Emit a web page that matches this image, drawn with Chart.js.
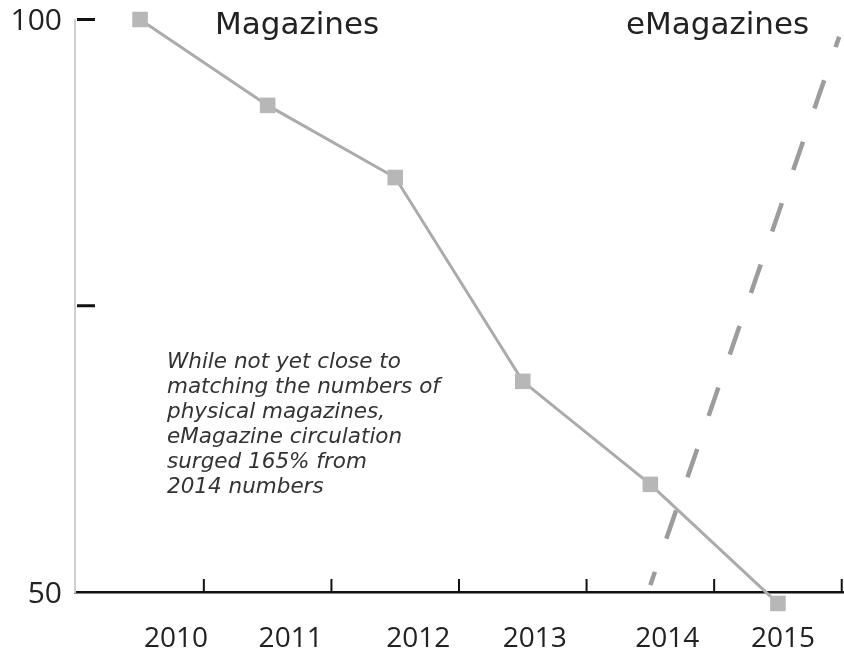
<!DOCTYPE html>
<html>
<head>
<meta charset="utf-8">
<script src="https://cdn.jsdelivr.net/npm/chart.js@4"></script>
<style>
    html, body { margin: 0; padding: 0; background: #fff; }
    canvas { display: block; }
</style>
</head>
<body>
<canvas id="chart" width="844" height="655"></canvas>
<script>
// data
const years = [2010, 2011, 2012, 2013, 2014, 2015];
const magazines = [100, 92.5, 86.2, 68.4, 59.4, 49.0];
const eMagYears = [2014.0, 2015.48];
const eMagazines = [50.6, 98.5];
const yTicks = [50, 75, 100];
const yLabelled = [50, 100];
const seriesNames = ["Magazines", "eMagazines"];
const note = [
    "While not yet close to",
    "matching the numbers of",
    "physical magazines,",
    "eMagazine circulation",
    "surged 165% from",
    "2014 numbers"
];

// year labels sit a little right of their points in the original
const labelShift = [36, 23, 23, 12, 17, 5];

const decorations = {
    id: "decorations",
    afterDraw(chart) {
        const ctx = chart.ctx;
        const xs = chart.scales.x;
        const ys = chart.scales.y;
        const area = chart.chartArea;
        ctx.save();

        // y tick marks (pointing into the plot)
        ctx.strokeStyle = "#111";
        ctx.lineWidth = 3;
        yTicks.filter(v => v > ys.min).forEach(v => {
            const y = ys.getPixelForValue(v);
            ctx.beginPath();
            ctx.moveTo(area.left + 2, y);
            ctx.lineTo(area.left + 20, y);
            ctx.stroke();
        });

        // x tick marks between years, pointing up
        ctx.lineWidth = 2;
        years.forEach(yr => {
            const x = Math.min(xs.getPixelForValue(yr + 0.5), area.right - 1);
            ctx.beginPath();
            ctx.moveTo(x, area.bottom);
            ctx.lineTo(x, area.bottom - 13);
            ctx.stroke();
        });

        // y labels
        ctx.fillStyle = "#222";
        ctx.font = '30px "Open Sans"';
        ctx.textAlign = "right";
        ctx.textBaseline = "middle";
        yLabelled.forEach(v => {
            ctx.fillText(String(v), 62, ys.getPixelForValue(v) + 2);
        });

        // year labels
        ctx.font = '28px "Open Sans"';
        ctx.textAlign = "center";
        ctx.textBaseline = "alphabetic";
        years.forEach((yr, i) => {
            ctx.fillText(String(yr), xs.getPixelForValue(yr) + labelShift[i], 647);
        });

        // series titles
        ctx.textAlign = "left";
        ctx.font = '31px "DejaVu Sans"';
        ctx.fillText(seriesNames[0], 215, 34);
        ctx.fillText(seriesNames[1], 626, 34);

        // note
        ctx.fillStyle = "#333";
        ctx.font = 'italic 21.5px "DejaVu Sans"';
        note.forEach((line, i) => {
            ctx.fillText(line, 167, 368 + i * 25);
        });
        ctx.restore();
    }
};

new Chart(document.getElementById("chart"), {
    type: "line",
    data: {
        datasets: [{
            label: seriesNames[0],
            data: years.map((yr, i) => ({ x: yr, y: magazines[i] })),
            borderColor: "#ababab",
            borderWidth: 3,
            pointStyle: "rect",
            pointRadius: 11,
            pointHoverRadius: 16,
            pointBackgroundColor: "#b7b7b7",
            pointBorderWidth: 0,
            tension: 0,
            clip: false
        }, {
            label: seriesNames[1],
            data: eMagYears.map((yr, i) => ({ x: yr, y: eMagazines[i] })),
            borderColor: "#9c9c9c",
            borderWidth: 4.5,
            borderDash: [30, 35],
            borderDashOffset: 16,
            borderCapStyle: "butt",
            pointRadius: 0,
            tension: 0,
            clip: false
        }]
    },
    options: {
        responsive: false,
        animation: false,
        events: [],
        layout: { autoPadding: false, padding: { top: 19.5, right: 1, left: 0, bottom: 0 } },
        plugins: {
            legend: { display: false },
            tooltip: { enabled: false }
        },
        scales: {
            x: {
                type: "linear",
                min: 2009.49,
                max: 2015.51,
                grid: { display: false },
                ticks: { display: false },
                border: { color: "#111", width: 2.5 },
                afterFit(scale) { scale.height = 63; }
            },
            y: {
                min: 50,
                max: 100,
                grid: { display: false },
                ticks: { display: false },
                border: { color: "#cfcfcf", width: 2 },
                afterFit(scale) { scale.width = 75; }
            }
        }
    },
    plugins: [decorations]
});
</script>
</body>
</html>
